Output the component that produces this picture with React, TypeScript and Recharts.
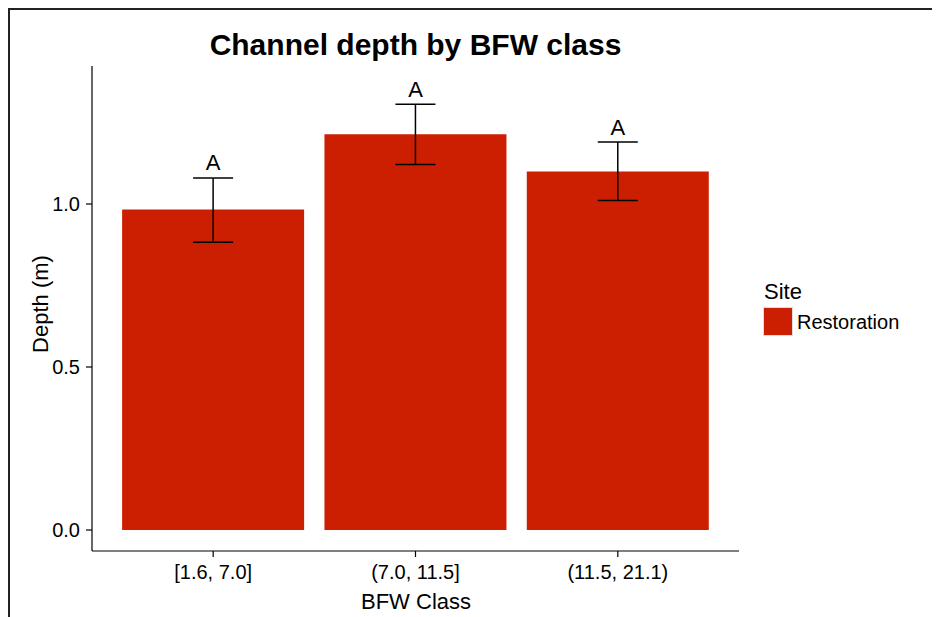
import { ComposedChart, Bar, Line, XAxis, YAxis, ErrorBar, LabelList } from 'recharts';

const classes = ['[1.6, 7.0]', '(7.0, 11.5]', '(11.5, 21.1)'];
const depth = [0.983, 1.214, 1.1];
const lower = [0.883, 1.121, 1.011];
const upper = [1.08, 1.306, 1.19];
const letters = ['A', 'A', 'A'];
const yTicks = [0, 0.5, 1.0];

const BAR_COLOR = '#CC1E00';
const FONT = '"Liberation Sans", Arial, Helvetica, sans-serif';

const data = classes.map((cls, i) => ({
  cls,
  depth: depth[i],
  upper: upper[i],
  err: [depth[i] - lower[i], upper[i] - depth[i]],
  letter: letters[i],
}));

function LetterLabel(props: any) {
  const { x, y, value } = props;
  if (x == null || y == null) return null;
  return (
    <text x={x} y={y - 7.5} textAnchor="middle" fontSize={22} fontFamily={FONT} fill="#000">
      {value}
    </text>
  );
}

export default function App() {
  return (
    <div
      style={{
        position: 'relative',
        width: 930,
        height: 607,
        borderTop: '2px solid #222',
        borderLeft: '2px solid #222',
        fontFamily: FONT,
      }}
    >
      <style>{'html,body{overflow:hidden}'}</style>
      <ComposedChart
        width={930}
        height={607}
        data={data}
        barCategoryGap="5%"
        margin={{ top: 56, right: 201, bottom: 0, left: 0 }}
      >
        <XAxis
          dataKey="cls"
          height={66}
          padding={{ left: 20, right: 20 }}
          tickSize={6}
          tickMargin={8}
          tick={{ fontSize: 20, fill: '#000', fontFamily: FONT }}
          axisLine={{ stroke: '#000', strokeWidth: 1.2 }}
          tickLine={{ stroke: '#000', strokeWidth: 1.2 }}
        />
        <YAxis
          type="number"
          width={82}
          domain={[-0.0644, 1.4233]}
          ticks={yTicks}
          tickFormatter={(v: number) => v.toFixed(1)}
          tickSize={6}
          tickMargin={6}
          tick={{ fontSize: 20, fill: '#000', fontFamily: FONT }}
          axisLine={{ stroke: '#000', strokeWidth: 1.2 }}
          tickLine={{ stroke: '#000', strokeWidth: 1.2 }}
        />
        <Bar dataKey="depth" fill={BAR_COLOR} isAnimationActive={false}>
          <ErrorBar dataKey="err" width={20} stroke="#000" strokeWidth={1.5} direction="y" />
        </Bar>
        <Line
          dataKey="upper"
          stroke="none"
          dot={false}
          activeDot={false}
          legendType="none"
          isAnimationActive={false}
        >
          <LabelList dataKey="letter" content={LetterLabel} />
        </Line>
      </ComposedChart>
      <svg
        width={930}
        height={607}
        style={{ position: 'absolute', left: 0, top: 0, pointerEvents: 'none' }}
        fontFamily={FONT}
      >
        <text x={405.5} y={44.7} textAnchor="middle" fontSize={30} fontWeight="bold" fill="#000">
          Channel depth by BFW class
        </text>
        <text
          x={0}
          y={0}
          transform="translate(38,294) rotate(-90)"
          textAnchor="middle"
          fontSize={22}
          fill="#000"
        >
          Depth (m)
        </text>
        <text x={406} y={599.3} textAnchor="middle" fontSize={22} fill="#000">
          BFW Class
        </text>
        <text x={754} y={289.3} fontSize={22} fill="#000">
          Site
        </text>
        <rect x={753.5} y={297.5} width={29} height={28} fill={BAR_COLOR} stroke="#ddd" strokeWidth={1} />
        <text x={787} y={319.3} fontSize={20} fill="#000">
          Restoration
        </text>
      </svg>
    </div>
  );
}
